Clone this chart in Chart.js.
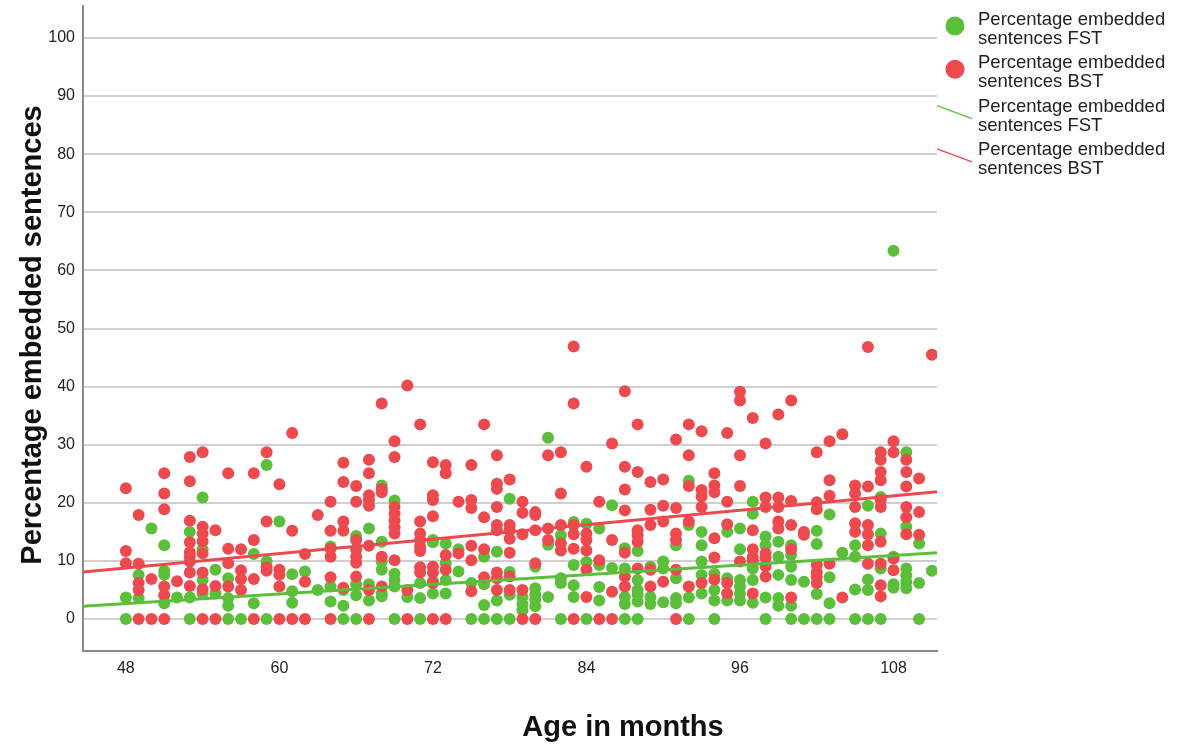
<!DOCTYPE html>
<html>
<head>
<meta charset="utf-8">
<title>Percentage embedded sentences by age</title>
<script src="https://cdn.jsdelivr.net/npm/chart.js@4.4.1/dist/chart.umd.min.js"></script>
<style>
  body { margin: 0; background: #fff; }
  #wrap { width: 1193px; height: 748px; position: relative; }
</style>
</head>
<body>
<div id="wrap"><canvas id="scatterChart"></canvas></div>
<script>
// Age (months) for each column of points
const months = [48, 49, 50, 51, 52, 53, 54, 55, 56, 57, 58, 59, 60, 61, 62, 63,
                64, 65, 66, 67, 68, 69, 70, 71, 72, 73, 74, 75, 76, 77, 78, 79,
                80, 81, 82, 83, 84, 85, 86, 87, 88, 89, 90, 91, 92, 93, 94, 95,
                96, 97, 98, 99, 100, 101, 102, 103, 104, 105, 106, 107, 108, 109, 110, 111];

// Percentage embedded sentences FST, one list per month above
const fstValues = [
  [3.7, 0], [7.6, 3.6], [15.6], [12.7, 8.3, 7.6, 2.7], [3.7], [15.0, 3.7, 0], [20.9, 12.0, 6.7, 4.4], [8.5, 4.4],
  [7.0, 3.6, 2.3, 0], [0], [11.2, 2.7], [26.5, 9.9, 0], [16.8], [7.7, 4.8, 2.8], [8.2], [5.0],
  [12.5, 5.6, 3.0], [5.0, 2.3, 0], [14.3, 6.0, 4.1, 0], [15.6, 6.0, 3.2], [23.0, 13.3, 9.9, 8.5, 4.4, 3.9], [20.4, 7.8, 6.7, 5.6, 0], [3.8], [6.2, 3.6, 0],
  [13.6, 13.2, 6.5, 4.4], [13.0, 9.6, 6.7, 4.4], [12.0, 8.2], [6.2, 0], [10.7, 6.0, 2.4, 0], [11.6, 3.2, 0], [20.7, 8.1, 4.2, 0], [3.8, 2.6, 1.5],
  [9.0, 5.3, 4.2, 3.3, 2.2], [31.2, 12.8, 3.8], [14.4, 7.0, 6.2, 0], [16.7, 9.3, 5.8, 3.8], [16.4, 9.8, 0], [15.6, 9.3, 5.5, 3.2], [19.6, 8.8], [12.2, 8.7, 3.8, 2.6, 0],
  [11.7, 6.7, 5.0, 4.2, 3.0, 0], [9.0, 3.8, 2.6], [9.9, 8.7, 2.9], [12.7, 7.0, 3.6, 2.7], [23.8, 16.2, 3.7, 0], [15.0, 12.7, 9.9, 7.6, 4.4], [7.8, 5.0, 3.2, 0], [15.0, 7.0, 3.2],
  [15.6, 12.0, 6.7, 5.6, 4.4, 3.2], [20.2, 18.1, 8.7, 6.7, 2.8], [14.2, 12.7, 3.7, 0], [13.3, 10.7, 7.6, 3.6, 2.3], [12.7, 11.0, 9.0, 6.7, 2.3, 0], [6.4, 0], [15.2, 12.9, 4.3, 0], [18.0, 7.2, 2.7, 0],
  [11.4], [12.7, 10.7, 5.1, 0], [19.5, 6.8, 5.0, 0], [21.0, 14.7, 8.7, 0], [63.4, 10.7, 6.0, 5.4], [28.7, 15.9, 8.7, 7.5, 6.4, 5.3], [13.0, 6.2, 0], [8.3]
];

// Percentage embedded sentences BST, one list per month above
const bstValues = [
  [22.5, 11.7, 9.6], [17.9, 9.5, 6.2, 5.0, 0], [6.9, 0], [25.1, 21.6, 18.9, 5.6, 4.1, 0], [6.5], [27.9, 23.7, 16.9, 13.2, 11.5, 10.7, 9.9, 8.0, 5.7], [28.7, 15.9, 14.7, 13.4, 11.3, 8.0, 5.1, 0], [15.3, 5.7, 0],
  [25.1, 12.1, 9.6, 5.6], [12.0, 8.4, 6.9, 5.0], [25.1, 13.6, 6.9, 0], [28.7, 16.8, 8.9, 8.3], [23.2, 8.5, 7.6, 5.6, 0], [32.0, 15.2, 0], [11.2, 6.4, 0], [17.9],
  [20.2, 15.2, 12.1, 10.7, 7.2, 0], [26.9, 23.6, 16.8, 15.2, 5.4], [22.9, 20.2, 13.6, 12.0, 10.7, 9.7, 7.3], [27.4, 25.1, 21.3, 20.5, 19.5, 12.6, 5.0, 0], [37.1, 22.4, 21.8, 10.7, 5.6], [30.6, 27.9, 19.3, 18.1, 17.0, 15.8, 14.7, 10.1], [40.2, 5.0, 0], [33.5, 16.8, 14.7, 13.6, 12.5, 11.7, 8.9, 8.0],
  [27.0, 21.3, 20.5, 17.7, 9.0, 8.0, 6.2, 0], [26.5, 25.1, 11.0, 8.5, 0], [20.2, 11.3], [26.5, 20.5, 19.1, 12.6, 10.1, 4.8], [33.5, 17.5, 12.0, 7.2], [28.2, 23.3, 22.4, 19.3, 16.2, 15.3, 8.0, 7.0, 5.0], [24.0, 16.2, 15.3, 13.8, 11.4, 7.3, 5.0], [20.2, 18.3, 14.6, 5.0, 0],
  [18.4, 17.9, 15.3, 9.6, 0], [28.2, 15.6, 13.6], [28.7, 21.6, 16.2, 13.0, 11.8], [46.9, 37.1, 16.2, 14.6, 12.1, 0], [26.2, 14.7, 13.6, 11.8, 8.5, 3.8], [20.2, 10.1, 0], [30.2, 13.6, 4.7, 0], [39.2, 26.2, 22.3, 18.7, 11.4, 7.3, 5.6],
  [33.5, 25.3, 15.3, 14.4, 13.3, 8.7], [23.6, 18.8, 16.2, 8.5, 5.6], [24.0, 19.5, 16.8, 6.4], [30.9, 19.1, 14.7, 13.6, 8.5, 0], [33.5, 28.2, 22.9, 16.8, 5.6], [32.3, 22.2, 21.1, 19.3, 6.2], [25.1, 23.0, 21.8, 13.9, 10.6, 6.8], [32.0, 20.2, 16.3, 6.2, 4.4],
  [39.1, 37.6, 28.2, 22.9, 9.9], [34.6, 15.3, 12.0, 10.7, 10.1, 4.4], [30.2, 20.9, 19.3, 11.3, 10.5, 9.1, 7.3], [35.2, 20.9, 19.3, 16.8, 15.6], [37.6, 20.3, 16.2, 12.0, 3.7], [15.0, 14.5], [28.7, 20.1, 18.9, 9.3, 8.1, 7.3, 6.2], [30.6, 23.9, 21.2, 9.5],
  [31.8, 3.7], [23.0, 21.6, 19.3, 16.5, 15.0], [46.8, 22.8, 16.2, 14.6, 12.7, 9.5], [28.7, 27.4, 25.3, 23.9, 20.5, 19.3, 13.3, 9.5, 5.8, 3.9], [30.6, 28.7, 10.4, 8.4], [27.4, 25.3, 22.8, 19.3, 17.5, 14.6], [24.2, 18.4, 14.5], [45.5]
];

// Linear fit lines, at the two ends of the age axis
const fitAge = [44.65, 111.4];
const fitFST = [2.2, 11.4];
const fitBST = [8.1, 21.9];

const xTicks = [48, 60, 72, 84, 96, 108];
const yTicks = [0, 10, 20, 30, 40, 50, 60, 70, 80, 90, 100];

const seriesNames = ['Percentage embedded sentences FST', 'Percentage embedded sentences BST'];

const GREEN = '#5cbf3b';
const RED = '#ec4a4e';
const FONT = "'Liberation Sans', Arial, sans-serif";

function toPoints(values) {
    const pts = [];
    months.forEach((m, i) => {
        values[i].forEach(v => pts.push({ x: m, y: v }));
    });
    return pts;
}

function fitPoints(ys) {
    return fitAge.map((a, i) => ({ x: a, y: ys[i] }));
}

// axis titles and the SPSS-style legend are drawn by hand
const decorPlugin = {
    id: 'decor',
    afterDraw(chart) {
        const ctx = chart.ctx;
        ctx.save();
        ctx.fillStyle = '#111';
        ctx.font = 'bold 29px ' + FONT;
        ctx.textAlign = 'center';
        ctx.textBaseline = 'middle';
        ctx.fillText('Age in months', 623, 728);

        ctx.save();
        ctx.translate(33, 335);
        ctx.rotate(-Math.PI / 2);
        ctx.fillText('Percentage embedded sentences', 0, 0);
        ctx.restore();

        // legend
        const items = [
            { kind: 'dot', color: GREEN, lines: ['Percentage embedded', 'sentences FST'] },
            { kind: 'dot', color: RED, lines: ['Percentage embedded', 'sentences BST'] },
            { kind: 'line', color: GREEN, lines: ['Percentage embedded', 'sentences FST'] },
            { kind: 'line', color: RED, lines: ['Percentage embedded', 'sentences BST'] }
        ];
        ctx.font = '18.5px ' + FONT;
        ctx.textAlign = 'left';
        ctx.textBaseline = 'alphabetic';
        items.forEach((it, i) => {
            const top = 25 + i * 43.3;
            if (it.kind === 'dot') {
                ctx.fillStyle = it.color;
                ctx.beginPath();
                ctx.arc(955, top + 1, 9.5, 0, Math.PI * 2);
                ctx.fill();
            } else {
                ctx.strokeStyle = it.color;
                ctx.lineWidth = 1.5;
                ctx.beginPath();
                ctx.moveTo(937, top - 6);
                ctx.lineTo(972, top + 7);
                ctx.stroke();
            }
            ctx.fillStyle = '#222';
            it.lines.forEach((t, j) => ctx.fillText(t, 978, top + j * 19));
        });
        ctx.restore();
    }
};

const ctx = document.getElementById('scatterChart').getContext('2d');
new Chart(ctx, {
    type: 'scatter',
    data: {
        datasets: [
            {
                label: seriesNames[0],
                data: toPoints(fstValues),
                backgroundColor: GREEN,
                pointRadius: 6,
                pointBorderWidth: 0,
                order: 3
            },
            {
                label: seriesNames[1],
                data: toPoints(bstValues),
                backgroundColor: RED,
                pointRadius: 6,
                pointBorderWidth: 0,
                order: 2
            },
            {
                type: 'line',
                label: seriesNames[0],
                data: fitPoints(fitFST),
                borderColor: GREEN,
                borderWidth: 3,
                pointRadius: 0,
                order: 1
            },
            {
                type: 'line',
                label: seriesNames[1],
                data: fitPoints(fitBST),
                borderColor: RED,
                borderWidth: 3,
                pointRadius: 0,
                order: 0
            }
        ]
    },
    options: {
        responsive: true,
        maintainAspectRatio: false,
        animation: false,
        devicePixelRatio: 1,
        layout: { padding: { top: 5, right: 256, left: 0, bottom: 0 } },
        plugins: {
            legend: { display: false },
            tooltip: { enabled: false }
        },
        scales: {
            x: {
                type: 'linear',
                min: fitAge[0],
                max: fitAge[1],
                afterBuildTicks: (scale) => { scale.ticks = xTicks.map(v => ({ value: v })); },
                afterFit: (scale) => {
                    scale.height = 97;
                    scale.paddingLeft = 0;
                    scale.paddingRight = 0;
                },
                grid: { display: false, drawTicks: false },
                border: { display: true, color: '#8a8a8a', width: 2 },
                ticks: { color: '#222', padding: 8, maxRotation: 0, font: { family: FONT, size: 16 } }
            },
            y: {
                type: 'linear',
                min: -5.5,
                max: 105.5,
                afterBuildTicks: (scale) => { scale.ticks = yTicks.map(v => ({ value: v })); },
                afterFit: (scale) => {
                    scale.width = 83;
                    scale.paddingTop = 0;
                    scale.paddingBottom = 0;
                },
                grid: { color: '#cfcfcf', lineWidth: 2, drawTicks: false },
                border: { display: true, color: '#8a8a8a', width: 2 },
                ticks: { color: '#222', padding: 8, font: { family: FONT, size: 16 } }
            }
        }
    },
    plugins: [decorPlugin]
});
</script>
</body>
</html>
